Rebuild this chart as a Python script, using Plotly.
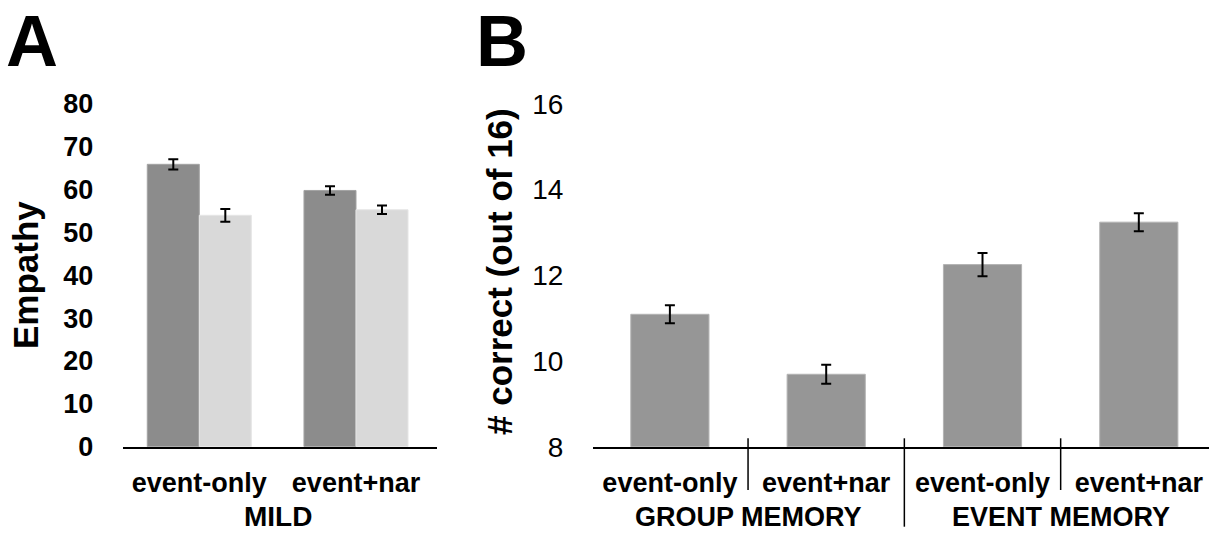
import plotly.graph_objects as go

# ---------- data ----------
A_categories = ["event-only", "event+nar"]
A_dark = [65.9, 59.8]
A_dark_err = [1.2, 1.0]
A_light = [54.0, 55.3]
A_light_err = [1.5, 1.0]
A_ticks = [0, 10, 20, 30, 40, 50, 60, 70, 80]
A_group = "MILD"

B_labels = ["event-only", "event+nar", "event-only", "event+nar"]
B_groups = ["GROUP MEMORY", "EVENT MEMORY"]
B_values = [11.09, 9.69, 12.25, 13.24]
B_err = [0.21, 0.22, 0.27, 0.21]
B_ticks = [8, 10, 12, 14, 16]

FONT = "Liberation Sans, Arial, Helvetica, sans-serif"
W, H = 1209, 533

def px(xpix):
    return xpix / W

def py(ypix):
    return 1 - ypix / H

fig = go.Figure()

errstyle = dict(type="data", color="black", thickness=2, width=5)

fig.add_trace(go.Bar(
    x=A_categories, y=A_dark,
    error_y=dict(array=A_dark_err, **errstyle),
    marker=dict(color="#8c8c8c", line=dict(color="#a3a3a3", width=1)),
    xaxis="x", yaxis="y", showlegend=False,
))
fig.add_trace(go.Bar(
    x=A_categories, y=A_light,
    error_y=dict(array=A_light_err, **errstyle),
    marker=dict(color="#d9d9d9", line=dict(color="#e6e6e6", width=1)),
    xaxis="x", yaxis="y", showlegend=False,
))

B_pos = list(range(len(B_values)))
fig.add_trace(go.Bar(
    x=B_pos, y=B_values, width=0.5,
    error_y=dict(array=B_err, **errstyle),
    marker=dict(color="#969696", line=dict(color="#b3b3b3", width=1)),
    xaxis="x2", yaxis="y2", showlegend=False,
))

ydom = [py(446.7), py(103.9)]

fig.update_layout(
    width=W, height=H,
    margin=dict(l=0, r=0, t=0, b=0, pad=0, autoexpand=False),
    paper_bgcolor="white", plot_bgcolor="white",
    barmode="group", bargap=0.336, bargroupgap=0,
    font=dict(family=FONT, color="black"),
    xaxis=dict(
        domain=[px(123.3), px(436.7)], range=[-0.485, 1.515],
        anchor="y", showline=True, linecolor="black", linewidth=2,
        ticks="", showgrid=False, zeroline=False, automargin=False,
        tickfont=dict(family=FONT, size=27, weight="bold", color="black"),
        ticklabelstandoff=11,
    ),
    yaxis=dict(
        domain=ydom, range=[0, 80], tickvals=A_ticks,
        anchor="x", showline=False, showgrid=False, zeroline=False, ticks="",
        automargin=False,
        tickfont=dict(family=FONT, size=27, weight="bold", color="black"),
        ticklabelstandoff=29,
    ),
    xaxis2=dict(
        domain=[px(593.3), 1.0], range=[-0.49, 3.449],
        anchor="y2", showline=True, linecolor="black", linewidth=2,
        ticks="", showgrid=False, zeroline=False, automargin=False,
        tickvals=B_pos, ticktext=B_labels,
        tickfont=dict(family=FONT, size=27, weight="bold", color="black"),
        ticklabelstandoff=11,
    ),
    yaxis2=dict(
        domain=ydom, range=[8, 16], tickvals=B_ticks,
        anchor="x2", showline=False, showgrid=False, zeroline=False, ticks="",
        automargin=False,
        tickfont=dict(family=FONT, size=28, color="black"),
        ticklabelstandoff=29,
    ),
)

annotations = [
    dict(text="A", x=px(5), y=1, xref="paper", yref="paper",
         xanchor="left", yanchor="top", showarrow=False, borderpad=0,
         font=dict(family=FONT, size=72, weight="bold", color="black")),
    dict(text="B", x=px(475), y=1, xref="paper", yref="paper",
         xanchor="left", yanchor="top", showarrow=False, borderpad=0,
         font=dict(family=FONT, size=72, weight="bold", color="black")),
    dict(text="Empathy", x=px(25), y=py(275), xref="paper", yref="paper",
         xanchor="center", yanchor="middle", textangle=-90, showarrow=False,
         font=dict(family=FONT, size=35, weight="bold", color="black")),
    dict(text="# correct (out of 16)", x=px(499), y=py(272), xref="paper", yref="paper",
         xanchor="center", yanchor="middle", textangle=-90, showarrow=False,
         font=dict(family=FONT, size=35, weight="bold", color="black")),
    dict(text=A_group, x=0.5, y=py(516.5), xref="x", yref="paper",
         xanchor="center", yanchor="middle", showarrow=False,
         font=dict(family=FONT, size=28, weight="bold", color="black")),
]
for i, g in enumerate(B_groups):
    annotations.append(dict(
        text=g, x=2 * i + 0.5, y=py(516.5), xref="x2", yref="paper",
        xanchor="center", yanchor="middle", showarrow=False,
        font=dict(family=FONT, size=27, weight="bold", color="black")))
fig.update_layout(annotations=annotations)

# dividers between categories on panel B
shapes = []
for k in range(1, len(B_values)):
    xpos = k - 0.5
    long = (k == len(B_values) // 2)
    shapes.append(dict(
        type="line", xref="x2", yref="paper",
        x0=xpos, x1=xpos, y0=py(438.3), y1=py(526.7 if long else 490),
        line=dict(color="black", width=1.5)))
fig.update_layout(shapes=shapes)

fig.write_html(
    "out.html",
    config={"displayModeBar": False},
    post_script="document.body.style.margin='0';document.body.style.padding='0';"
                "document.body.style.overflow='hidden';",
)
